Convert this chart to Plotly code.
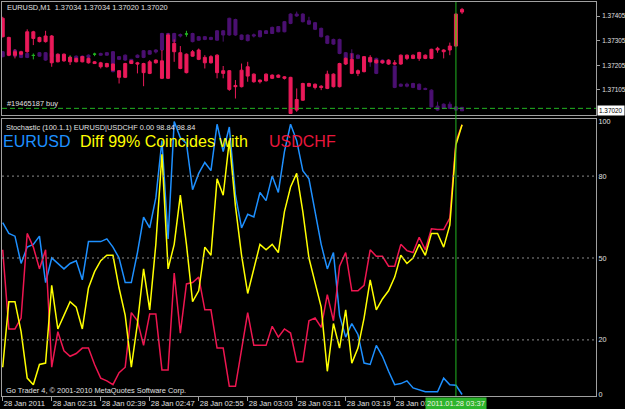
import pandas as pd
import plotly.graph_objects as go

# ---------------- data ----------------
start = pd.Timestamp("2011-01-28 02:23")
n_bars = 76
times = [start + pd.Timedelta(minutes=i) for i in range(n_bars)]

# overlay series (crimson candles)
r_high = [1.37402,1.37321,1.37270,1.37264,1.37351,1.37345,1.37321,1.37345,1.37328,1.37253,
          1.37253,1.37242,1.37236,1.37242,1.37236,1.37222,1.37219,1.37215,1.37212,1.37185,
          1.37215,1.37226,1.37219,1.37215,1.37226,1.37229,1.37267,1.37334,1.37310,1.37283,
          1.37253,1.37267,1.37273,1.37246,1.37246,1.37250,1.37202,1.37185,1.37145,1.37212,
          1.37219,1.37172,1.37147,1.37172,1.37168,1.37168,1.37161,1.37158,1.37111,1.37134,
          1.37134,1.37131,1.37124,1.37183,1.37172,1.37215,1.37237,1.37253,1.37188,1.37242,
          1.37246,1.37229,1.37226,1.37229,1.37226,1.37249,1.37249,1.37249,1.37260,1.37249,
          1.37272,1.37280,1.37270,1.37297,1.37416,1.37438]
r_low = [1.37318,1.37242,1.37233,1.37246,1.37256,1.37287,1.37298,1.37297,1.37199,1.37217,
         1.37219,1.37206,1.37217,1.37217,1.37212,1.37210,1.37192,1.37196,1.37183,1.37131,
         1.37153,1.37210,1.37172,1.37120,1.37169,1.37212,1.37149,1.37149,1.37219,1.37189,
         1.37172,1.37240,1.37226,1.37192,1.37212,1.37152,1.37152,1.37101,1.37070,1.37115,
         1.37138,1.37134,1.37131,1.37139,1.37149,1.37153,1.37147,1.37007,1.37016,1.37061,
         1.37118,1.37107,1.37104,1.37108,1.37115,1.37115,1.37206,1.37169,1.37161,1.37176,
         1.37217,1.37212,1.37212,1.37207,1.37206,1.37207,1.37226,1.37230,1.37223,1.37230,
         1.37230,1.37256,1.37233,1.37246,1.37280,1.37413]
r_open = [1.37396,1.37318,1.37260,1.37260,1.37341,1.37341,1.37318,1.37324,1.37324,1.37250,
          1.37250,1.37237,1.37233,1.37240,1.37233,1.37219,1.37215,1.37212,1.37210,1.37183,
          1.37212,1.37223,1.37215,1.37212,1.37219,1.37226,1.37223,1.37328,1.37294,1.37256,
          1.37250,1.37260,1.37267,1.37237,1.37240,1.37246,1.37183,1.37183,1.37123,1.37185,
          1.37199,1.37169,1.37145,1.37169,1.37165,1.37165,1.37158,1.37156,1.37066,1.37131,
          1.37131,1.37128,1.37120,1.37169,1.37169,1.37212,1.37233,1.37229,1.37183,1.37240,
          1.37237,1.37226,1.37223,1.37226,1.37215,1.37246,1.37246,1.37246,1.37257,1.37246,
          1.37270,1.37274,1.37267,1.37283,1.37413,1.37432]
r_close = [1.37321,1.37246,1.37246,1.37250,1.37260,1.37314,1.37301,1.37301,1.37215,1.37219,
           1.37223,1.37219,1.37219,1.37219,1.37215,1.37212,1.37199,1.37199,1.37185,1.37156,
           1.37156,1.37212,1.37210,1.37175,1.37172,1.37215,1.37152,1.37152,1.37260,1.37192,
           1.37175,1.37242,1.37229,1.37215,1.37215,1.37175,1.37172,1.37107,1.37118,1.37118,
           1.37161,1.37138,1.37138,1.37142,1.37152,1.37156,1.37152,1.37009,1.37023,1.37063,
           1.37120,1.37115,1.37115,1.37111,1.37118,1.37118,1.37210,1.37172,1.37172,1.37179,
           1.37219,1.37215,1.37215,1.37210,1.37210,1.37210,1.37233,1.37233,1.37233,1.37233,
           1.37233,1.37267,1.37260,1.37267,1.37283,1.37421]

# main EURUSD M1 series (purple candles)
p_high = [1.37263,1.37263,1.37270,1.37256,1.37256,1.37253,1.37259,1.37259,1.37256,1.37249,
          1.37249,1.37246,1.37245,1.37245,1.37249,1.37256,1.37256,1.37259,1.37263,1.37242,
          1.37249,1.37231,1.37249,1.37267,1.37267,1.37270,1.37337,1.37337,1.37337,1.37334,
          1.37345,1.37337,1.37324,1.37324,1.37321,1.37348,1.37348,1.37398,1.37394,1.37330,
          1.37330,1.37334,1.37348,1.37348,1.37362,1.37364,1.37385,1.37416,1.37423,1.37416,
          1.37402,1.37381,1.37358,1.37326,1.37313,1.37313,1.37259,1.37270,1.37249,1.37240,
          1.37236,1.37236,1.37229,1.37226,1.37204,1.37131,1.37134,1.37134,1.37131,1.37114,
          1.37107,1.37057,1.37050,1.37057,1.37039,1.37034]
p_low = [1.37237,1.37244,1.37240,1.37234,1.37234,1.37229,1.37240,1.37223,1.37237,1.37234,
         1.37234,1.37226,1.37230,1.37234,1.37234,1.37242,1.37244,1.37244,1.37176,1.37226,
         1.37223,1.37212,1.37234,1.37234,1.37248,1.37253,1.37264,1.37264,1.37298,1.37318,
         1.37321,1.37298,1.37305,1.37307,1.37307,1.37305,1.37301,1.37325,1.37325,1.37307,
         1.37302,1.37318,1.37318,1.37332,1.37332,1.37339,1.37339,1.37372,1.37402,1.37379,
         1.37370,1.37348,1.37318,1.37291,1.37288,1.37250,1.37230,1.37230,1.37230,1.37223,
         1.37199,1.37169,1.37212,1.37210,1.37112,1.37118,1.37115,1.37112,1.37104,1.37104,
         1.37034,1.37020,1.37027,1.37027,1.37020,1.37020]
p_open = [1.37260,1.37260,1.37267,1.37253,1.37253,1.37245,1.37256,1.37256,1.37253,1.37246,
          1.37246,1.37237,1.37242,1.37242,1.37246,1.37250,1.37253,1.37256,1.37260,1.37240,
          1.37246,1.37229,1.37246,1.37264,1.37264,1.37267,1.37334,1.37334,1.37334,1.37330,
          1.37332,1.37334,1.37321,1.37321,1.37318,1.37345,1.37345,1.37396,1.37391,1.37328,
          1.37328,1.37329,1.37345,1.37345,1.37359,1.37362,1.37382,1.37413,1.37413,1.37413,
          1.37386,1.37378,1.37355,1.37324,1.37310,1.37310,1.37256,1.37253,1.37246,1.37237,
          1.37233,1.37233,1.37226,1.37223,1.37202,1.37128,1.37128,1.37131,1.37128,1.37111,
          1.37104,1.37039,1.37047,1.37047,1.37036,1.37034]
p_close = [1.37240,1.37246,1.37242,1.37237,1.37237,1.37245,1.37242,1.37226,1.37240,1.37237,
           1.37237,1.37237,1.37233,1.37237,1.37237,1.37250,1.37246,1.37246,1.37179,1.37229,
           1.37226,1.37215,1.37237,1.37237,1.37250,1.37259,1.37267,1.37267,1.37301,1.37324,
           1.37332,1.37301,1.37307,1.37310,1.37310,1.37307,1.37328,1.37328,1.37328,1.37310,
           1.37305,1.37324,1.37321,1.37334,1.37334,1.37341,1.37341,1.37375,1.37405,1.37382,
           1.37372,1.37351,1.37321,1.37294,1.37291,1.37253,1.37233,1.37233,1.37233,1.37226,
           1.37219,1.37172,1.37215,1.37212,1.37115,1.37120,1.37120,1.37115,1.37107,1.37107,
           1.37036,1.37023,1.37030,1.37030,1.37023,1.37020]
doji_idx = [5, 11, 15, 30]

buy_price = 1.37030
bid_price = 1.37020
price_ticks = [1.37405, 1.37305, 1.37205, 1.37105]

# Stochastic lines
stoch_eurusd = [63,59,58,48,54,55,58,41,50,48,46,48,49,42,56,56,56,57,54,50,41,41,52,65,61,72,
                93,57,100,94,92,75,81,85,82,99,89,98,73,61,66,65,74,71,80,74,89,99,93,82,79,
                67,55,46,52,29,21,26,22,11.5,11,18,14,8.5,3.6,4,5,2.4,1.8,1,1,1,6,3.6,3.4,0]
stoch_diff = [10,34,34,23,6,3.6,11,11.5,40,24,29,34,32,24,39,45,49,51,51,39,29,10,26,46,31,55,
              88,46,55,73,55,34,38,54,51,79,73,93,69,51,37,46,55,53,55,52,67,76,81,67,50,
              41,32,8.5,26,17,31,11.5,17,28,42,31,35,38,43,51,48,50,55,51,59,59,54,62,91.5,98.84]
stoch_usdchf = [53,24,24,28,59,54,46,53,10,23,16,14,15,17,17,11,6,5,3.6,8,10,30,27,18,29.5,29.5,
                9,9,44.5,22.5,40.5,41,43,31,31,17,17,3,3,17,30,18,18,18,25,21,24,22.5,12,12,27,
                28,24.6,36.6,27,47,52,38,38,40,53,50.6,50.6,47,47,55,52.7,52,57.6,53,60.7,60.4,60.4,64.6,92.7,98.84]
stoch_levels = [20, 50, 80]
stoch_ticks = [0, 20, 50, 80, 100]

tick_times = [start + pd.Timedelta(minutes=8 * k) for k in range(9)]
tick_text = ["28 Jan 2011"] + ["28 Jan " + t.strftime("%H:%M") for t in tick_times[1:]]
cursor_idx = 74

# ---------------- figure ----------------
W, H = 625, 409
def fx(p):
    return p / W
def fy(p):
    return 1 - p / H

CRIMSON = "#ea1a5a"
PURPLE = "#4b1072"
GREEN = "#22b422"
GRAY = "#a0a0a0"
TXT = "#e0e0e0"
FONT = "Liberation Sans"

fig = go.Figure()

def sub(seq, idx):
    return [seq[i] for i in idx]

def candle(idx, line_c, fill_c):
    fig.add_trace(go.Candlestick(
        x=sub(times, idx), open=sub(OPEN, idx), high=sub(HIGH, idx),
        low=sub(LOW, idx), close=sub(CLOSE, idx),
        increasing=dict(line=dict(color=line_c, width=1), fillcolor=fill_c),
        decreasing=dict(line=dict(color=line_c, width=1), fillcolor=fill_c),
        whiskerwidth=0, xaxis="x", yaxis="y", hoverinfo="skip"))

OPEN, HIGH, LOW, CLOSE = p_open, p_high, p_low, p_close
main_idx = [i for i in range(n_bars) if i not in doji_idx]
candle(main_idx, PURPLE, PURPLE)
candle(doji_idx, GREEN, GREEN)

OPEN, HIGH, LOW, CLOSE = r_open, r_high, r_low, r_close
r_idx = list(range(n_bars - 2)) + [n_bars - 1]
candle(r_idx, CRIMSON, CRIMSON)
candle([n_bars - 2], CRIMSON, "#e0702a")

fig.add_trace(go.Scatter(x=times, y=stoch_eurusd, mode="lines",
                         line=dict(color="#1e90ff", width=1.5), xaxis="x2", yaxis="y2", hoverinfo="skip"))
fig.add_trace(go.Scatter(x=times, y=stoch_usdchf, mode="lines",
                         line=dict(color="#ee1650", width=1.5), xaxis="x2", yaxis="y2", hoverinfo="skip"))
fig.add_trace(go.Scatter(x=times, y=stoch_diff, mode="lines",
                         line=dict(color="#ffff00", width=1.5), xaxis="x2", yaxis="y2", hoverinfo="skip"))

x_lo = start + pd.Timedelta(seconds=-7)
x_hi = start + pd.Timedelta(minutes=96.87)
xdom = [fx(2), fx(596)]

common_x = dict(domain=xdom, range=[x_lo, x_hi], type="date", showgrid=False, zeroline=False,
                showline=True, mirror=True, linecolor=GRAY, linewidth=1, automargin=False)
fig.update_layout(
    width=W, height=H, margin=dict(l=0, r=0, t=0, b=0, autoexpand=False),
    paper_bgcolor="black", plot_bgcolor="black", showlegend=False,
    font=dict(family=FONT, color=TXT, size=7.5),
    xaxis=dict(**common_x, anchor="y", showticklabels=False, ticks="", rangeslider=dict(visible=False)),
    xaxis2=dict(**common_x, anchor="y2", tickvals=tick_times, ticktext=tick_text, ticks="outside",
                ticklen=4, tickcolor=GRAY, ticklabelposition="outside right", tickangle=0,
                tickfont=dict(size=7.6, color=TXT, family=FONT)),
    yaxis=dict(domain=[fy(115), fy(2)], range=[1.37003, 1.37462], side="right", anchor="x",
               tickvals=price_ticks, ticktext=[f"{v:.5f}" for v in price_ticks], automargin=False,
               ticks="outside", ticklen=3, tickcolor=GRAY, showgrid=False, zeroline=False,
               showline=True, mirror=True, linecolor=GRAY, ticklabelstandoff=1,
               tickfont=dict(size=6.4, color=TXT, family=FONT)),
    yaxis2=dict(domain=[fy(396), fy(118.5)], range=[-0.55, 101.1], side="right", anchor="x2",
                tickvals=stoch_ticks, ticktext=[str(v) for v in stoch_ticks], ticks="", automargin=False,
                showgrid=False, zeroline=False, showline=True, mirror=True, linecolor=GRAY,
                tickfont=dict(size=7.2, color=TXT, family=FONT)),
)

shapes = []
for lv in stoch_levels:
    shapes.append(dict(type="line", xref="x2 domain", x0=0, x1=1, yref="y2", y0=lv, y1=lv,
                       line=dict(color="#8c8c8c", width=1, dash="2px,3px")))
shapes.append(dict(type="line", xref="x domain", x0=0, x1=1, yref="y", y0=buy_price, y1=buy_price,
                   line=dict(color=GREEN, width=1, dash="5px,3px")))
shapes.append(dict(type="line", xref="x", x0=times[cursor_idx], x1=times[cursor_idx], yref="paper",
                   y0=fy(396), y1=fy(2), line=dict(color=GREEN, width=1)))
fig.update_layout(shapes=shapes)

def note(text, x, y, size=7.4, color=TXT, xanchor="left", **kw):
    fig.add_annotation(text=text, x=x, y=y, xref=kw.pop("xref", "paper"), yref=kw.pop("yref", "paper"),
                       xanchor=xanchor, yanchor="middle", showarrow=False,
                       font=dict(family=FONT, size=size, color=color), **kw)

nb = "\u00a0"
note(f"EURUSD,M1{nb}{nb}1.37034 1.37034 1.37020 1.37020", fx(5), fy(8))
note("#19465187 buy", fx(5), fy(103))
note("Stochastic (100.1.1) EURUSD|USDCHF 0.00 98.84 98.84", fx(4), fy(127))
note("EURUSD", fx(1), fy(141), size=16, color="#1e90ff")
note("Diff 99% Coincides with", fx(78), fy(141), size=16, color="#ffff00")
note("USDCHF", fx(267), fy(141), size=16, color="#e8173c")
note("Go Trader 4, \u00a9 2001-2010 MetaQuotes Software Corp.", fx(4), fy(390))
note(f"{bid_price:.5f}", fx(597), bid_price, size=6.4, color="black", yref="y",
     bgcolor="white", borderpad=1)
note("2011.01.28 03:37", times[cursor_idx], fy(403.5), size=7.5, color="#f0f0e0",
     xanchor="center", xref="x2", bgcolor="#2db42d", borderpad=1)

fig.write_html("out.html")
